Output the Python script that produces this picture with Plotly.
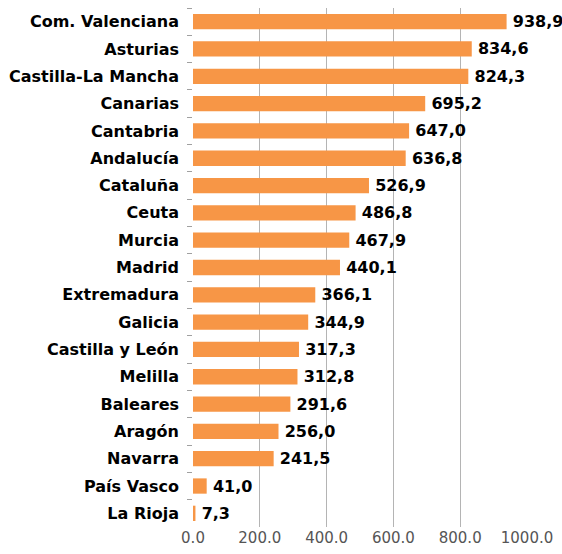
import plotly.graph_objects as go

regions = ["Com. Valenciana", "Asturias", "Castilla-La Mancha", "Canarias", "Cantabria",
           "Andalucía", "Cataluña", "Ceuta", "Murcia", "Madrid", "Extremadura", "Galicia",
           "Castilla y León", "Melilla", "Baleares", "Aragón", "Navarra", "País Vasco", "La Rioja"]
values = [938.9, 834.6, 824.3, 695.2, 647.0, 636.8, 526.9, 486.8, 467.9, 440.1, 366.1,
          344.9, 317.3, 312.8, 291.6, 256.0, 241.5, 41.0, 7.3]
x_ticks = [0, 200, 400, 600, 800, 1000]

labels = ["\u2009" + f"{v:.1f}".replace(".", ",") for v in values]

fig = go.Figure(go.Bar(
    x=values, y=regions, orientation="h",
    marker=dict(color="#F79646", line=dict(width=0)),
    text=labels, textposition="outside", cliponaxis=False,
    textfont=dict(family="DejaVu Sans", size=16, color="#000000", weight="bold"),
    hoverinfo="skip",
))
fig.update_layout(
    width=562, height=554,
    margin=dict(l=193, r=35, t=8, b=27),
    plot_bgcolor="white", paper_bgcolor="white",
    bargap=0.44, showlegend=False,
    font=dict(family="DejaVu Sans"),
    uniformtext=dict(minsize=15, mode="show"),
)
fig.update_xaxes(range=[0, 1000], tickvals=x_ticks, tickformat=".1f", automargin=False,
                 showgrid=True, gridcolor="#B4B4B4", gridwidth=1.2, zeroline=False,
                 showline=False, tickfont=dict(size=15, color="#555555"))
fig.update_yaxes(autorange="reversed", ticks="outside", tickson="boundaries", automargin=False,
                 ticklen=5, tickcolor="#A0A0A0", showgrid=False, showline=False,
                 ticklabelstandoff=13,
                 tickfont=dict(size=16, color="#000000", weight="bold"))
fig.write_html("out.html", config={"displayModeBar": False},
               post_script="document.body.style.margin='0';document.body.style.overflow='hidden';")
